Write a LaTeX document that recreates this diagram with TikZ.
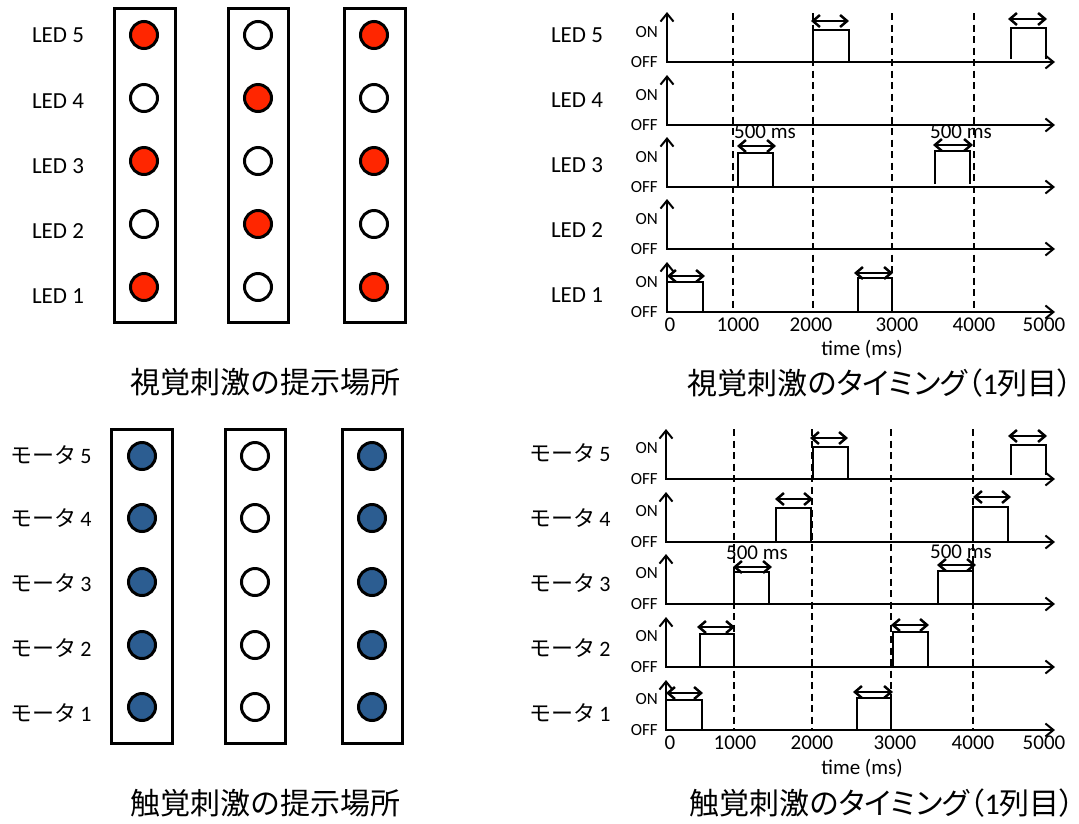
\documentclass[tikz,border=0pt]{standalone}
\usepackage{fontspec}
\setmainfont{Carlito}
\newfontfamily\jp{Noto Sans CJK JP}
\newfontfamily\jpp[RawFeature=+palt]{Noto Sans CJK JP}
\usetikzlibrary{arrows.meta}
\definecolor{ledred}{RGB}{255,38,0}
\definecolor{motblue}{RGB}{44,93,145}
\begin{document}
\begin{tikzpicture}[x=1pt,y=-1pt,
  boxframe/.style={line width=3pt},
  lamp/.style={circle,draw,line width=3pt,minimum size=27pt,inner sep=0pt,fill=#1},
  lbl/.style={font=\fontsize{23}{26}\selectfont,inner sep=0pt},
  jlbl/.style={font=\fontsize{22}{26}\selectfont,inner sep=0pt},
  onoff/.style={font=\fontsize{17}{18}\selectfont,inner sep=0pt,anchor=east},
  ticktxt/.style={font=\fontsize{21}{24}\selectfont,inner sep=0pt},
  captxt/.style={font=\fontsize{30}{36}\selectfont,inner sep=0pt},
  chaxis/.style={line width=2pt,line join=miter,{Straight Barb[length=8pt,width=13pt]}-{Straight Barb[length=8pt,width=13pt]}},
  pulseline/.style={line width=1.5pt},
  durarrow/.style={line width=2.5pt,{Straight Barb[length=7pt,width=12pt]}-{Straight Barb[length=7pt,width=12pt]}},
  vline/.style={line width=1.6pt,dash pattern=on 7pt off 4.5pt}
]
\fill[white] (0,0) rectangle (1079,823);
\useasboundingbox (0,0) rectangle (1079,823);

% ---------- top-left: LED positions ----------
\draw[boxframe] (114,8) rectangle (175,322);
\draw[boxframe] (228,8) rectangle (288,322);
\draw[boxframe] (344,8) rectangle (405,322);
\foreach \y/\n/\a/\b/\c in {35/5/ledred/white/ledred,98/4/white/ledred/white,161/3/ledred/white/ledred,224/2/white/ledred/white,287/1/ledred/white/ledred}{
  \node[lamp=\a] (va\n) at (144,\y) {};
  \node[lamp=\b] (vb\n) at (258,\y) {};
  \node[lamp=\c] (vc\n) at (374,\y) {};
}
\foreach \y/\n in {35/5,101/4,166/3,231/2,296/1}
  \node[lbl] (vl\n) at (58,\y) {LED \n};
\node[captxt] (vcap) at (265,382) {\jp 視覚刺激の提示場所};

% ---------- bottom-left: motor positions ----------
\draw[boxframe] (111,429) rectangle (172,743);
\draw[boxframe] (225,429) rectangle (285,743);
\draw[boxframe] (342,429) rectangle (402,743);
\foreach \y/\n in {456/5,518/4,582/3,645/2,707/1}{
  \node[lamp=motblue] (ta\n) at (142,\y) {};
  \node[lamp=white] (tb\n) at (255,\y) {};
  \node[lamp=motblue] (tc\n) at (372,\y) {};
}
\foreach \y/\n in {455/5,518/4,583/3,648/2,713/1}
  \node[jlbl] (tl\n) at (51,\y) {{\jp モータ}\,\n};
\node[captxt] (tcap) at (265,803) {\jp 触覚刺激の提示場所};

% ---------- top-right: visual timing ----------
\foreach \x in {733,813,892,974}
  \draw[vline] (\x,13) -- (\x,312);
\foreach \b/\n/\ly in {62/5/35,125/4/100,187/3/165,249/2/230,312/1/295}{
  \draw[chaxis] (667,{\b-50}) -- (667,\b) -- (1055,\b);
  \node[onoff] (von\n) at (658,{\b-30}) {ON};
  \node[onoff] (voff\n) at (658,\b) {OFF};
  \node[lbl] (vt\n) at (577,\ly) {LED \n};
}
% LED 5
\draw[pulseline] (813,62) -- (813,30) -- (849,30) -- (849,62);
\draw[pulseline] (1011,59) -- (1011,28) -- (1046,28) -- (1046,59);
\draw[durarrow] (811,21) -- (849,21);
\draw[durarrow] (1008,19) -- (1047,19);
% LED 3
\draw[pulseline] (738,187) -- (738,153) -- (773,153) -- (773,187);
\draw[pulseline] (935,184) -- (935,151) -- (970,151) -- (970,184);
\draw[durarrow] (737,146) -- (776,146);
\draw[durarrow] (933,145) -- (973,145);
\node[ticktxt] (vms1) at (765,132) {500 ms};
\node[ticktxt] (vms2) at (961,132) {500 ms};
% LED 1
\draw[pulseline] (667,282) -- (703,282) -- (703,312);
\draw[pulseline] (858,312) -- (858,278) -- (892,278) -- (892,312);
\draw[durarrow] (667,276) -- (705,276);
\draw[durarrow] (854,273) -- (893,273);
\foreach \x/\t in {670/0,738/1000,811/2000,897/3000,974/4000,1044/5000}
  \node[ticktxt] (vx\t) at (\x,325) {\t};
\node[ticktxt] (vtime) at (862,349) {time (ms)};
\node[captxt,anchor=east] (vtitle) at (1073,383) {{\jpp 視覚刺激のタイミング（}1{\jpp 列目）}};

% ---------- bottom-right: tactile timing ----------
\foreach \x in {734,812,891,973}
  \draw[vline] (\x,429) -- (\x,730);
\foreach \b/\n/\ly in {479/5/453,542/4/518,604/3/583,667/2/648,730/1/713}{
  \draw[chaxis] (666,{\b-50}) -- (666,\b) -- (1055,\b);
  \node[onoff] (ton\n) at (658,{\b-31}) {ON};
  \node[onoff] (toff\n) at (658,\b) {OFF};
  \node[jlbl] (tt\n) at (570,\ly) {{\jp モータ}\,\n};
}
% motor 5
\draw[pulseline] (813,479) -- (813,447) -- (848,447) -- (848,479);
\draw[pulseline] (1011,475) -- (1011,445) -- (1046,445) -- (1046,475);
\draw[durarrow] (810,438) -- (848,438);
\draw[durarrow] (1008,436) -- (1047,436);
% motor 4
\draw[pulseline] (776,542) -- (776,508) -- (811,508) -- (811,542);
\draw[pulseline] (973,542) -- (973,507) -- (1008,507) -- (1008,542);
\draw[durarrow] (775,499) -- (813,499);
\draw[durarrow] (973,497) -- (1011,497);
% motor 3
\draw[pulseline] (734,604) -- (734,572) -- (769,572) -- (769,604);
\draw[pulseline] (938,604) -- (938,571) -- (973,571) -- (973,604);
\draw[durarrow] (733,567) -- (772,567);
\draw[durarrow] (937,565) -- (976,565);
\node[ticktxt] (tms1) at (757,553) {500 ms};
\node[ticktxt] (tms2) at (961,552) {500 ms};
% motor 2
\draw[pulseline] (700,667) -- (700,634) -- (734,634) -- (734,667);
\draw[pulseline] (893,667) -- (893,632) -- (928,632) -- (928,667);
\draw[durarrow] (697,627) -- (735,627);
\draw[durarrow] (891,625) -- (929,625);
% motor 1
\draw[pulseline] (666,700) -- (702,700) -- (702,730);
\draw[pulseline] (857,730) -- (857,698) -- (891,698) -- (891,730);
\draw[durarrow] (666,693) -- (703,693);
\draw[durarrow] (853,692) -- (893,692);
\foreach \x/\t in {670/0,735/1000,812/2000,895/3000,973/4000,1044/5000}
  \node[ticktxt] (tx\t) at (\x,743) {\t};
\node[ticktxt] (ttime) at (862,768) {time (ms)};
\node[captxt,anchor=east] (ttitle) at (1075,803) {{\jpp 触覚刺激のタイミング（}1{\jpp 列目）}};
\end{tikzpicture}
\end{document}
